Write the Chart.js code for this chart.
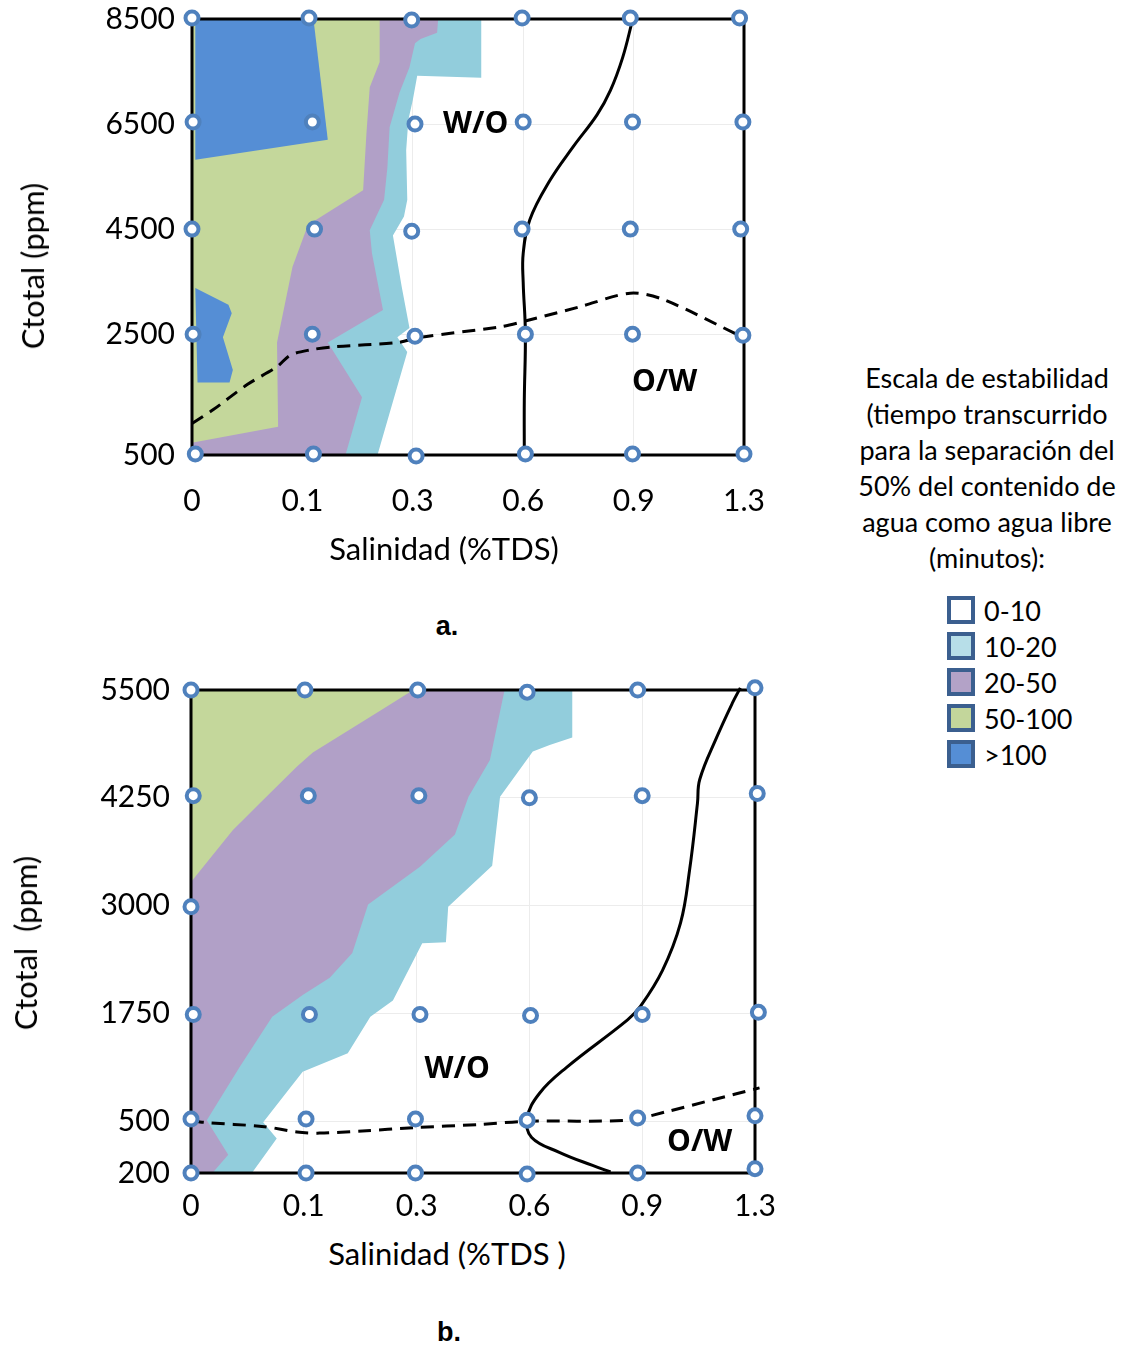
<!DOCTYPE html>
<html>
<head>
<meta charset="utf-8">
<script src="https://cdn.jsdelivr.net/npm/chart.js@4.4.0/dist/chart.umd.min.js"></script>
<style>
  body { margin: 0; background: #fff; width: 1131px; height: 1349px; position: relative; overflow: hidden; font-family: Lato, sans-serif; color: #000; }
  .wrap { position: absolute; left: 0; }
  .ttl { position: absolute; font-size: 31px; white-space: pre; transform: translate(-50%, -50%); }
  .rot { transform: translate(-50%, -50%) rotate(-90deg); }
  .tag { position: absolute; font: bold 27px 'Liberation Sans', Arial, sans-serif; transform: translate(-50%, -50%); }
  #legendTitle { position: absolute; left: 837px; top: 360px; width: 300px; text-align: center; font-size: 27px; line-height: 36px; white-space: nowrap; }
  #legendItems { position: absolute; left: 947px; top: 592px; font-size: 27px; }
  .item { display: flex; align-items: center; height: 36px; }
  .sw { width: 20px; height: 20px; border: 4px solid #3b5f8f; margin-right: 9px; }
</style>
</head>
<body>

<div class="wrap" style="top:0;width:780px;height:530px"><canvas id="chartA"></canvas></div>
<div class="wrap" style="top:670px;width:790px;height:560px"><canvas id="chartB"></canvas></div>

<div class="ttl rot" style="left:32px;top:266px">Ctotal (ppm)</div>
<div class="ttl" style="left:444px;top:548px">Salinidad (%TDS)</div>
<div class="tag" style="left:447px;top:626px">a.</div>

<div class="ttl rot" style="left:25px;top:943px">Ctotal  (ppm)</div>
<div class="ttl" style="left:447px;top:1253px">Salinidad (%TDS )</div>
<div class="tag" style="left:449px;top:1332px">b.</div>

<div id="legendTitle">Escala de estabilidad<br>(tiempo transcurrido<br>para la separación del<br>50% del contenido de<br>agua como agua libre<br>(minutos):</div>
<div id="legendItems"></div>

<script>
'use strict';

// ── shared axis values ──
const salinity = ['0', '0.1', '0.3', '0.6', '0.9', '1.3'];

// stability classes (minutes) and their swatches
const classes = ['0-10', '10-20', '20-50', '50-100', '>100'];
const classSwatch = ['#ffffff', '#b7dee8', '#b3a2c7', '#c3d69b', '#558ed5'];
const regionColor = { c10: '#92cddc', c20: '#b1a0c7', c50: '#c4d79b', c100: '#558ed5' };

// ── chart a: Ctotal 500..8500 ──
const ctotalA = ['500', '2500', '4500', '6500', '8500'];
const ctotalPosA = [0, 1.15, 2.15, 3.15, 4.15];

const samplesA = [
  [0, 4.16], [1.06, 4.16], [1.99, 4.14], [2.99, 4.16], [3.97, 4.16], [4.96, 4.16],
  [0.01, 3.17], [1.09, 3.17], [2.02, 3.15], [3.00, 3.17], [3.99, 3.17], [4.99, 3.17],
  [0, 2.15], [1.11, 2.15], [1.99, 2.13], [2.99, 2.15], [3.97, 2.15], [4.97, 2.15],
  [0.01, 1.15], [1.09, 1.15], [2.02, 1.13], [3.02, 1.15], [3.99, 1.15], [4.99, 1.14],
  [0.03, 0.01], [1.10, 0.01], [2.03, -0.01], [3.02, 0.01], [3.99, 0.01], [5.0, 0.01]
];
const over10A = [[0, 4.15], [2.62, 4.15], [2.62, 3.59], [2.04, 3.61], [2.00, 3.38], [1.96, 3.19], [1.94, 2.90], [1.95, 2.43],
  [1.92, 2.27], [1.82, 2.09], [1.90, 1.60], [1.97, 1.21], [1.86, 1.12], [1.95, 0.98], [1.68, 0], [0, 0]];
const over20A = [[0, 4.15], [2.23, 4.15], [2.22, 4.02], [2.07, 3.96], [2.02, 3.92], [1.97, 3.69], [1.88, 3.45], [1.79, 3.12],
  [1.77, 2.74], [1.74, 2.43], [1.61, 2.14], [1.63, 1.92], [1.73, 1.38], [1.23, 1.07], [1.54, 0.55], [1.39, 0], [0, 0]];
const over50A = [[0, 4.15], [1.70, 4.15], [1.70, 3.74], [1.61, 3.50], [1.58, 3.06], [1.55, 2.52], [1.05, 2.19], [0.91, 1.79],
  [0.77, 1.07], [0.78, 0.27], [0.01, 0.12], [0, 0.12]];
const over100A = [[0.03, 4.15], [1.10, 4.15], [1.23, 3.00], [0.03, 2.81]];
const over100SpotA = [[0.03, 1.59], [0.33, 1.43], [0.36, 1.35], [0.28, 1.12], [0.37, 0.81], [0.34, 0.69], [0.05, 0.69]];
const inversionA = [[3.99, 4.14], [3.90, 3.78], [3.79, 3.47], [3.67, 3.24], [3.45, 2.93], [3.24, 2.61], [3.06, 2.24],
  [3.00, 1.92], [3.00, 1.64], [3.02, 1.16], [3.01, 0.52], [3.01, 0]];
const dashedA = [[0, 0.30], [0.19, 0.43], [0.50, 0.67], [0.77, 0.84], [0.89, 0.95], [1.07, 1.00], [1.28, 1.03], [1.86, 1.07],
  [2.07, 1.12], [2.79, 1.22], [3.00, 1.27], [3.51, 1.41], [3.97, 1.54], [4.27, 1.48], [4.99, 1.12]];
const phaseA = [{ text: 'W/O', x: 2.57, y: 3.15 }, { text: 'O/W', x: 4.28, y: 0.69 }];

// ── chart b: Ctotal 200..5500 ──
const ctotalB = ['200', '500', '1750', '3000', '4250', '5500'];
const ctotalPosB = [0, 0.48, 1.48, 2.48, 3.48, 4.48];

const samplesB = [
  [0, 4.48], [1.01, 4.48], [2.01, 4.48], [2.98, 4.46], [3.96, 4.48], [5.0, 4.50],
  [0.02, 3.50], [1.04, 3.50], [2.02, 3.50], [3.0, 3.48], [4.0, 3.50], [5.02, 3.52],
  [0, 2.47],
  [0.02, 1.47], [1.05, 1.47], [2.03, 1.47], [3.01, 1.46], [4.0, 1.47], [5.03, 1.49],
  [0, 0.50], [1.02, 0.50], [1.99, 0.50], [2.98, 0.49], [3.96, 0.51], [5.0, 0.53],
  [0, 0], [1.02, 0], [1.99, 0], [2.98, -0.01], [3.96, 0], [5.0, 0.04]
];
const over10B = [[0, 4.48], [3.38, 4.48], [3.38, 4.04], [3.18, 3.97], [3.03, 3.91], [2.74, 3.49], [2.67, 2.85], [2.28, 2.47],
  [2.26, 2.14], [2.05, 2.13], [1.79, 1.60], [1.59, 1.45], [1.39, 1.11], [0.99, 0.94], [0.64, 0.47], [0.76, 0.32], [0.54, 0], [0, 0]];
const over20B = [[0, 4.48], [2.78, 4.48], [2.65, 3.83], [2.46, 3.49], [2.34, 3.14], [2.03, 2.84], [1.57, 2.49], [1.43, 2.04],
  [1.23, 1.81], [0.99, 1.65], [0.72, 1.45], [0.43, 0.98], [0.14, 0.49], [0.33, 0.17], [0.19, 0], [0, 0]];
const over50B = [[0, 4.48], [1.97, 4.48], [1.68, 4.29], [1.08, 3.90], [0.94, 3.77], [0.61, 3.43], [0.37, 3.18], [0, 2.70]];
const inversionB = [[4.87, 4.50], [4.80, 4.36], [4.66, 4.04], [4.51, 3.65], [4.49, 3.43], [4.42, 2.81], [4.34, 2.32], [4.18, 1.88],
  [3.98, 1.54], [3.87, 1.42], [3.33, 0.98], [3.09, 0.74], [2.98, 0.51], [3.02, 0.33], [3.27, 0.19], [3.56, 0.07], [3.72, 0.01]];
const dashedB = [[0, 0.49], [0.11, 0.47], [0.65, 0.43], [0.94, 0.38], [1.14, 0.37], [1.52, 0.39], [1.97, 0.42], [2.56, 0.45],
  [2.98, 0.48], [3.87, 0.49], [4.22, 0.57], [4.63, 0.68], [5.04, 0.79]];
const phaseB = [{ text: 'W/O', x: 2.36, y: 0.96 }, { text: 'O/W', x: 4.51, y: 0.28 }];

// ── legend ──
document.getElementById('legendItems').innerHTML = classes.map((c, i) =>
  `<div class="item"><div class="sw" style="background:${classSwatch[i]}"></div>${c}</div>`).join('');

// ── helpers ──
const xy = pts => pts.map(([x, y]) => ({ x, y }));
const tickFont = { family: 'Lato', size: 30 };

const region = (pts, color, order) => ({
  data: xy(pts), fill: 'shape', backgroundColor: color, borderColor: 'transparent',
  borderWidth: 0, pointRadius: 0, tension: 0, order
});

// black box round the plot, drawn over the coloured regions but under lines and points
const frame = {
  id: 'frame',
  beforeDatasetsDraw(chart) { chart.$framed = false; },
  beforeDatasetDraw(chart, args) {
    if (chart.$framed || chart.data.datasets[args.index].fill) return;
    const { ctx, chartArea: a } = chart;
    ctx.save();
    ctx.strokeStyle = '#000';
    ctx.lineWidth = 3;
    ctx.strokeRect(a.left, a.top, a.right - a.left, a.bottom - a.top);
    ctx.restore();
    chart.$framed = true;
  }
};

// W/O and O/W labels at data positions
const phaseText = {
  id: 'phaseText',
  afterDatasetsDraw(chart, args, opts) {
    const { ctx, scales: { x, y } } = chart;
    ctx.save();
    ctx.font = "bold 30px 'Open Sans'";
    ctx.fillStyle = '#000';
    ctx.textAlign = 'center';
    ctx.textBaseline = 'middle';
    (opts.items || []).forEach(t => ctx.fillText(t.text, x.getPixelForValue(t.x), y.getPixelForValue(t.y)));
    ctx.restore();
  }
};

// keep tick labels from pushing the plot area inward; layout padding decides instead
const noOverhang = ax => { ax.paddingTop = 0; ax.paddingBottom = 0; ax.paddingLeft = 0; ax.paddingRight = 0; };

function build(id, c) {
  const datasets = [
    region(c.over10, regionColor.c10, 9),
    region(c.over20, regionColor.c20, 8),
    region(c.over50, regionColor.c50, 7),
    ...c.over100.map(p => region(p, regionColor.c100, 6)),
    { data: xy(c.dashed), fill: false, borderColor: '#000', borderWidth: 3, borderDash: [13, 8],
      pointRadius: 0, tension: 0.3, clip: false, order: 2 },
    { data: xy(c.inversion), fill: false, borderColor: '#000', borderWidth: 3,
      pointRadius: 0, tension: 0.4, clip: false, order: 1 },
    { data: xy(c.samples), fill: false, showLine: false, pointRadius: 6.5, pointBorderWidth: 4,
      pointBackgroundColor: '#fff', pointBorderColor: '#4f81bd', clip: false, order: 0 }
  ];

  return new Chart(document.getElementById(id), {
    type: 'line',
    data: { datasets },
    options: {
      responsive: true,
      maintainAspectRatio: false,
      animation: false,
      events: [],
      layout: { padding: c.pad },
      plugins: { legend: { display: false }, tooltip: { enabled: false }, phaseText: { items: c.phase } },
      scales: {
        x: {
          type: 'linear', min: 0, max: 5,
          grid: { color: '#ececec', drawTicks: false },
          border: { display: false },
          ticks: { stepSize: 1, padding: c.xPad, font: tickFont, color: '#000', maxRotation: 0, callback: v => salinity[v] },
          afterFit: ax => { ax.height = c.xHeight; noOverhang(ax); }
        },
        y: {
          type: 'linear', min: 0, max: c.yPos[c.yPos.length - 1],
          afterBuildTicks: ax => { ax.ticks = c.yPos.map(v => ({ value: v })); },
          grid: { color: '#ececec', drawTicks: false },
          border: { display: false },
          ticks: { autoSkip: false, padding: c.yPad, font: tickFont, color: '#000', callback: (v, i) => c.yLabels[i] },
          afterFit: ax => { ax.width = c.yWidth; noOverhang(ax); }
        }
      }
    },
    plugins: [frame, phaseText]
  });
}

build('chartA', {
  over10: over10A, over20: over20A, over50: over50A, over100: [over100A, over100SpotA],
  dashed: dashedA, inversion: inversionA, samples: samplesA, phase: phaseA,
  yPos: ctotalPosA, yLabels: ctotalA,
  pad: { top: 19, right: 36, left: 0, bottom: 0 }, xHeight: 75, yWidth: 192, xPad: 28, yPad: 17
});

build('chartB', {
  over10: over10B, over20: over20B, over50: over50B, over100: [],
  dashed: dashedB, inversion: inversionB, samples: samplesB, phase: phaseB,
  yPos: ctotalPosB, yLabels: ctotalB,
  pad: { top: 20, right: 35, left: 0, bottom: 0 }, xHeight: 57, yWidth: 191, xPad: 15, yPad: 21
});
</script>
</body>
</html>
